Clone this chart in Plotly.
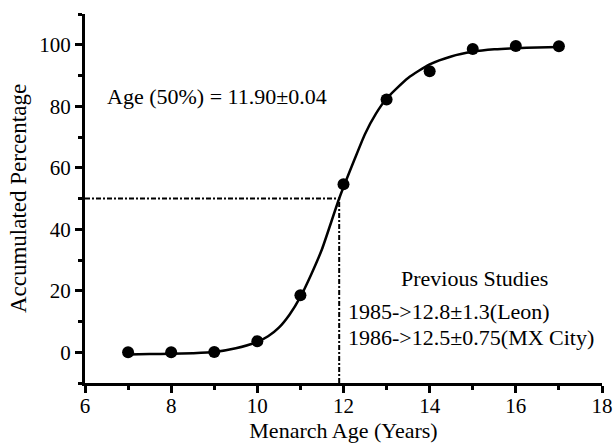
import plotly.graph_objects as go

# observed cumulative percentages
ages = [7, 8, 9, 10, 11, 12, 13, 14, 15, 16, 17]
pct = [0, 0, 0.1, 3.6, 18.5, 54.6, 82.2, 91.4, 98.6, 99.6, 99.5]

# fitted sigmoid
fit_x = [7, 7.5, 8, 8.5, 9, 9.5, 10, 10.25, 10.5, 10.75, 11, 11.25, 11.5, 11.9,
         12.25, 12.5, 12.75, 13, 13.5, 14, 14.5, 15, 15.5, 16, 16.5, 17]
fit_y = [-0.7, -0.6, -0.5, -0.3, 0.1, 1.3, 3.4, 5.2, 8.0, 12.3, 18.0, 25.3, 33.5, 50,
         62.5, 71, 77.5, 82.5, 89.2, 93.6, 96.2, 97.7, 98.5, 98.9, 99.1, 99.3]

age50 = 11.90
half = 50
x_range = [6, 18]
y_range = [-10, 110]

label50 = "Age (50%) = 11.90±0.04"
prev_title = "Previous Studies"
prev_lines = ["1985->12.8±1.3(Leon)", "1986->12.5±0.75(MX City)"]

FONT = "Times New Roman, Liberation Serif, DejaVu Serif, serif"

fig = go.Figure()

# guide lines at 50%
fig.add_trace(go.Scatter(
    x=[x_range[0], age50], y=[half, half],
    mode="lines", line=dict(color="black", width=2, dash="5px,2px,2px,2px"),
    hoverinfo="skip", showlegend=False
))
fig.add_trace(go.Scatter(
    x=[age50, age50], y=[y_range[0], half],
    mode="lines", line=dict(color="black", width=2, dash="5px,2px,2px,2px"),
    hoverinfo="skip", showlegend=False
))

fig.add_trace(go.Scatter(
    x=fit_x, y=fit_y, mode="lines",
    line=dict(color="black", width=2.5, shape="spline", smoothing=0.6),
    showlegend=False
))
fig.add_trace(go.Scatter(
    x=ages, y=pct, mode="markers",
    marker=dict(color="black", size=12),
    showlegend=False
))

fig.add_annotation(
    x=6.46, y=83.2, text=label50, showarrow=False,
    xanchor="left", yanchor="middle", font=dict(family=FONT, size=22)
)
fig.add_annotation(
    x=15.05, y=24, text=prev_title, showarrow=False,
    xanchor="center", yanchor="middle", font=dict(family=FONT, size=22)
)
for i, t in enumerate(prev_lines):
    fig.add_annotation(
        x=12.06, y=13.3 - i * 8.6, text=t, showarrow=False,
        xanchor="left", yanchor="middle", font=dict(family=FONT, size=22)
    )

fig.update_xaxes(
    range=x_range, dtick=2, tick0=6,
    showline=True, linewidth=3, linecolor="black",
    ticks="outside", ticklen=7, tickwidth=3, tickcolor="black",
    minor=dict(dtick=1, ticks="outside", ticklen=4, tickwidth=2.5, tickcolor="black"),
    showgrid=False, zeroline=False, automargin=False,
    tickfont=dict(family=FONT, size=21, color="black"), ticklabelstandoff=-5,
    title=dict(text="Menarch Age (Years)", font=dict(family=FONT, size=22), standoff=6)
)
fig.update_yaxes(
    range=y_range, tickvals=[0, 20, 40, 60, 80, 100],
    showline=True, linewidth=3, linecolor="black",
    ticks="outside", ticklen=7, tickwidth=3, tickcolor="black",
    minor=dict(dtick=10, tick0=0, ticks="outside", ticklen=4, tickwidth=2.5, tickcolor="black"),
    showgrid=False, zeroline=False, automargin=False,
    tickfont=dict(family=FONT, size=21, color="black"),
    title=dict(text="Accumulated Percentage", font=dict(family=FONT, size=23), standoff=7)
)

fig.update_layout(
    width=615, height=447,
    margin=dict(l=85, r=13, t=14, b=64),
    paper_bgcolor="white", plot_bgcolor="white",
    font=dict(family=FONT, color="black"),
)

# drop the page's default body margin so the figure sits at the window corner
fig.write_html("out.html", config={"displayModeBar": False},
               post_script="document.body.style.margin='0';")
